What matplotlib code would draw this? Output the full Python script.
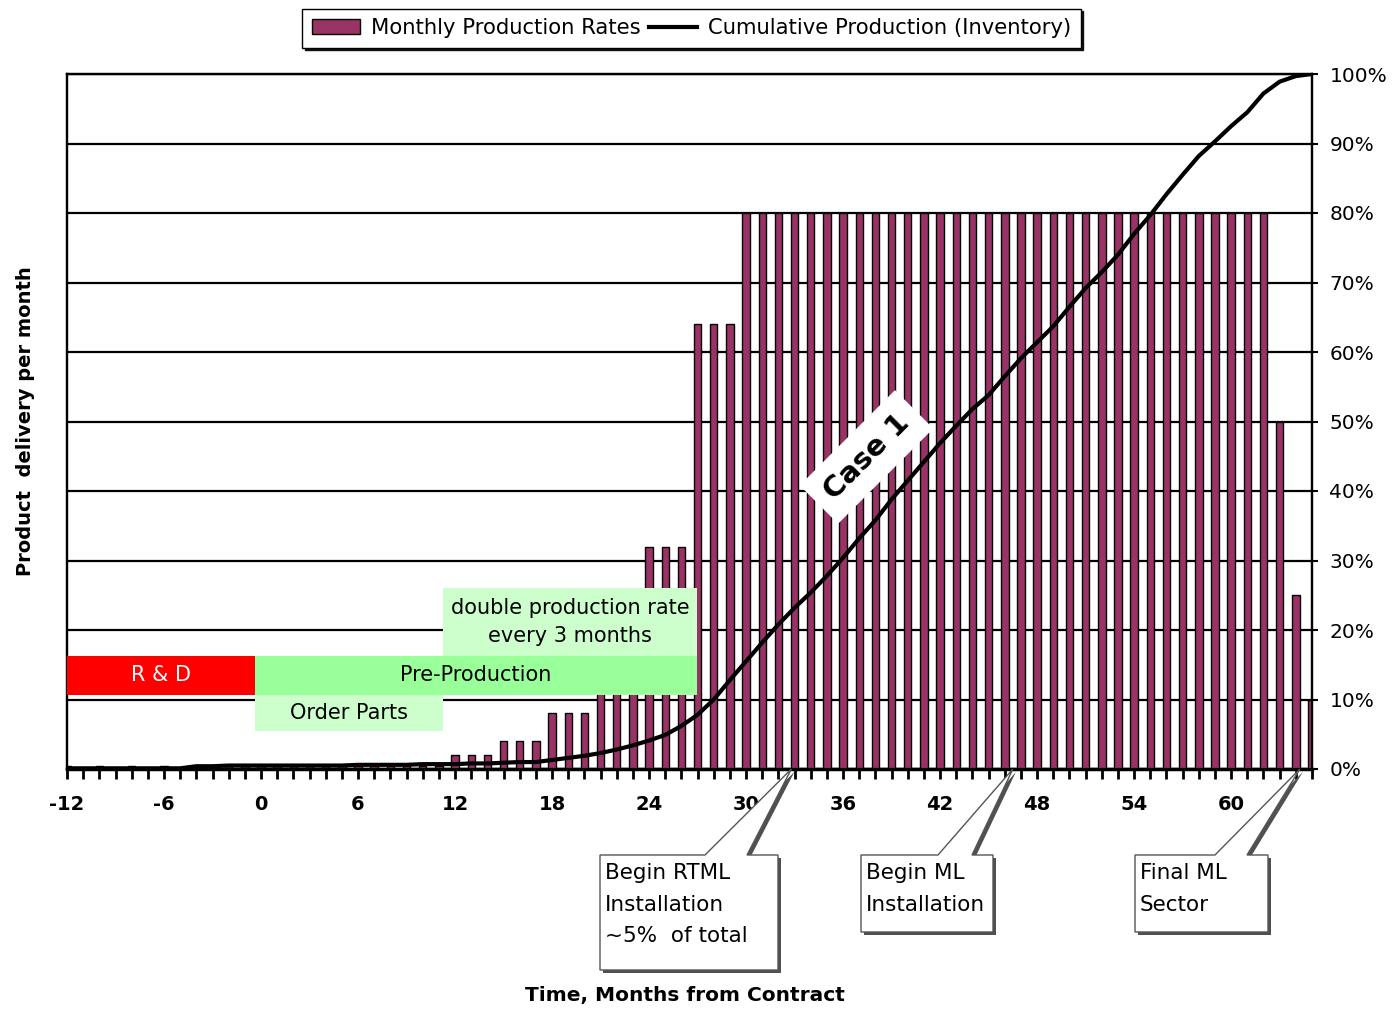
import matplotlib
matplotlib.use("Agg")
import matplotlib.pyplot as plt
from matplotlib.patches import Rectangle, Polygon
from matplotlib.ticker import MultipleLocator, PercentFormatter

plt.rcParams["axes.unicode_minus"] = False

W, H = 1394, 1009

# months from contract
months = list(range(-12, 66))

# product delivered per month (% of full rate scale)
monthly_rate = ([0.5, 0, 0.5, 0, 0.5, 0, 0.5, 0]
                + [0.5] * 16
                + [2] * 3 + [4] * 3 + [8] * 3 + [16] * 3 + [32] * 3 + [64] * 3
                + [80] * 33
                + [50, 25, 10])

# cumulative production, % of total inventory
cumulative = ([0.1] * 8
              + [0.4, 0.4, 0.5, 0.5, 0.5, 0.5, 0.5, 0.5, 0.5, 0.5, 0.6, 0.6, 0.6, 0.6, 0.7, 0.7]
              + [0.7, 0.8, 0.8, 0.9, 1.0, 1.0, 1.3, 1.6, 1.9, 2.3, 2.8, 3.4, 4.1, 4.9, 6.2, 7.8, 10.0, 12.8]
              + [15.5, 18.2, 20.8, 23.2, 25.4, 27.8, 30.4, 33.2, 35.8, 38.8, 41.5, 44.2,
                 46.9, 49.4, 51.8, 53.8, 56.5, 59.1, 61.4, 63.7, 66.5, 69.2, 71.5, 74.0,
                 77.0, 79.7, 82.7, 85.5, 88.2, 90.3, 92.5, 94.5, 97.2, 98.9, 99.7, 100.0])

x_labels = [-12, -6, 0, 6, 12, 18, 24, 30, 36, 42, 48, 54, 60]

# phase boxes: (label, x0, x1, y0, y1, fill, text colour)
phases = [
    ("R & D", -12, -0.37, 10.7, 16.3, "#ff0000", "white"),
    ("Pre-Production", -0.37, 26.95, 10.7, 16.3, "#99ff99", "black"),
    ("Order Parts", -0.37, 11.25, 5.5, 10.7, "#ccffcc", "black"),
    ("double production rate\nevery 3 months", 11.25, 26.95, 16.3, 26.0, "#ccffcc", "black"),
]

# callouts under the time axis
callout_text = ["Begin RTML\nInstallation\n~5%  of total", "Begin ML\nInstallation", "Final ML\nSector"]
callout_month = [32.8, 46.5, 64.25]
callout_box = [(600, 855, 778, 970), (861, 855, 993, 932), (1135, 855, 1268, 932)]
callout_wedge = [(705, 747), (938, 972), (1215, 1247)]

BAR = "#993366"


def px(x, y):
    return (x / W, 1 - y / H)


fig = plt.figure(figsize=(W / 100, H / 100), dpi=100)
ax = fig.add_axes([67 / W, 1 - 769 / H, (1312 - 67) / W, (769 - 74) / H])
ax2 = ax.twinx()

ax.bar(months, monthly_rate, width=0.46, color=BAR, edgecolor="black", linewidth=1, zorder=3)
ax.set_xlim(-12, 65)
ax.set_ylim(0, 100)
ax.yaxis.set_major_locator(MultipleLocator(10))
ax.grid(axis="y", color="black", linewidth=1.6, zorder=0)
ax.set_axisbelow(True)
ax.tick_params(axis="y", left=False, labelleft=False)

ax.set_xticks(x_labels)
ax.xaxis.set_minor_locator(MultipleLocator(1))
ax.tick_params(axis="x", which="both", direction="out", length=7, width=2, color="black")
ax.tick_params(axis="x", which="major", pad=12, labelsize=14)
for lab in ax.get_xticklabels():
    lab.set_fontweight("bold")

line, = ax2.plot(months, cumulative, color="black", linewidth=3, zorder=4)
ax2.set_ylim(0, 100)
ax2.yaxis.set_major_locator(MultipleLocator(10))
ax2.yaxis.set_major_formatter(PercentFormatter(xmax=100, decimals=0))
ax2.tick_params(axis="y", direction="out", length=4.5, width=1.5, pad=8, labelsize=14.5)

for a in (ax, ax2):
    for s in a.spines.values():
        s.set_color("black")
        s.set_linewidth(1.6)
ax.spines["bottom"].set_linewidth(2.5)

ax.set_ylabel("Product  delivery per month", fontsize=14, fontweight="bold")
ax.yaxis.set_label_coords(-0.026, 0.5)
fig.text(685 / W, 1 - 995 / H, "Time, Months from Contract", fontsize=14.5,
         fontweight="bold", ha="center", va="center")

# project phase boxes
for label, x0, x1, y0, y1, fill, tcol in phases:
    ax2.add_patch(Rectangle((x0, y0), x1 - x0, y1 - y0, facecolor=fill,
                            edgecolor="none", zorder=6))
    ax2.text((x0 + x1) / 2, (y0 + y1) / 2, label, color=tcol, fontsize=15,
             ha="center", va="center", linespacing=1.5, zorder=7)

ax2.text(37.45, 44.9, "Case 1", fontsize=21, fontweight="bold", rotation=45,
         rotation_mode="anchor", ha="center", va="center", zorder=8,
         bbox=dict(boxstyle="square,pad=0.45", facecolor="white", edgecolor="none"))

# speech-bubble callouts with drop shadow
to_fig = fig.transFigure.inverted()
for text, m, (l, t, r, b), (w0, w1) in zip(callout_text, callout_month, callout_box, callout_wedge):
    tip = to_fig.transform(ax.transData.transform((m, 0)))
    tip_px = (tip[0] * W, (1 - tip[1]) * H)
    outline = [(l, t), (w0, t), tip_px, (w1, t), (r, t), (r, b), (l, b)]
    shadow = [px(x + 3, y + 3) for x, y in outline]
    fig.add_artist(Polygon(shadow, closed=True, transform=fig.transFigure,
                           facecolor="#505050", edgecolor="none", zorder=10))
    fig.add_artist(Polygon([px(x, y) for x, y in outline], closed=True,
                           transform=fig.transFigure, facecolor="white",
                           edgecolor="#555555", linewidth=1, zorder=11))
    fig.text((l + 5) / W, 1 - (t + 8) / H, text, fontsize=15.5, ha="left", va="top",
             linespacing=1.72, zorder=12)

bar_handle = Rectangle((0, 0), 1, 1, facecolor=BAR, edgecolor="black", linewidth=1)
fig.legend([bar_handle, line], ["Monthly Production Rates", "Cumulative Production (Inventory)"],
           loc="center", bbox_to_anchor=(0.496, 1 - 28 / H), ncol=2, fontsize=15.2,
           frameon=True, fancybox=False, edgecolor="black", framealpha=1,
           handlelength=2.3, handletextpad=0.5, columnspacing=0.4, borderpad=0.45,
           shadow={"color": "black", "alpha": 0.9})

fig.savefig("out.png", dpi=100, facecolor="white")
